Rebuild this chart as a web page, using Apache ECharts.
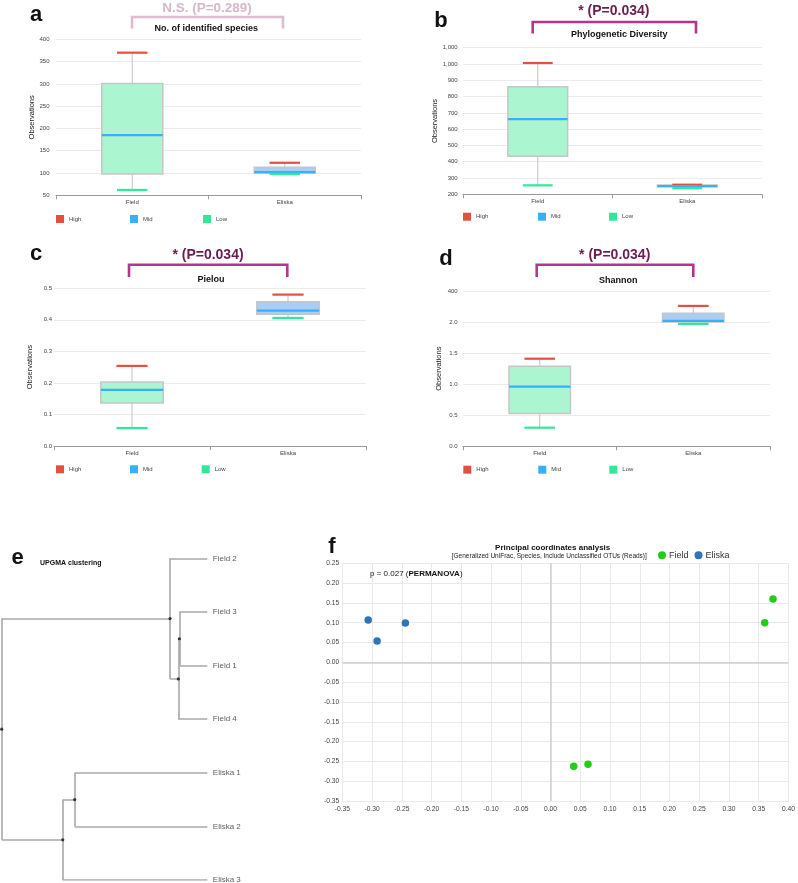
<!DOCTYPE html>
<html>
<head>
<meta charset="utf-8">
<script src="https://cdn.jsdelivr.net/npm/echarts@6/dist/echarts.min.js"></script>
<style>
html,body{margin:0;padding:0;background:#fff;}
#chart{width:798px;height:883px;}
</style>
</head>
<body>
<div id="chart"></div>
<script>
// ---------- DATA ----------
const boxCategories = ['Field', 'Eliska'];
// each: [low, Q1, median, Q3, high]
const speciesField = [62, 98, 185, 301, 370];
const speciesEliska = [98, 100, 102, 113, 123];
const pdField = [255, 434, 662, 860, 1006];
const pdEliska = [238, 245, 251, 257, 259];
const pielouField = [0.057, 0.136, 0.178, 0.203, 0.254];
const pielouEliska = [0.406, 0.418, 0.429, 0.457, 0.48];
const shannonField = [0.30, 0.53, 0.96, 1.29, 1.41];
const shannonEliska = [1.97, 2.00, 2.02, 2.14, 2.26];

const speciesTicks = ['50', '100', '150', '200', '250', '300', '350', '400'];
const pdTicks = ['200', '300', '400', '500', '600', '700', '800', '900', '1,000', '1,000'];
const pielouTicks = ['0.0', '0.1', '0.2', '0.3', '0.4', '0.5'];
const shannonTicks = ['0.0', '0.5', '1.0', '1.5', '2.0', '400'];

const boxTitles = ['No. of identified species', 'Phylogenetic Diversity', 'Pielou', 'Shannon'];
const pTexts = ['N.S. (P=0.289)', '* (P=0.034)', '* (P=0.034)', '* (P=0.034)'];
const legendNames = ['High', 'Mid', 'Low'];

// PCoA
const pcoaField = [[0.374, 0.160], [0.360, 0.100], [0.039, -0.262], [0.063, -0.257]];
const pcoaEliska = [[-0.3065, 0.107], [-0.2915, 0.054], [-0.244, 0.099]];

// UPGMA dendrogram
const leaves = ['Field 2', 'Field 3', 'Field 1', 'Field 4', 'Eliska 1', 'Eliska 2', 'Eliska 3'];
// [childA, childB, height]; indices < leaves.length are leaves, others are earlier merges
const merges = [[1, 2, 0.136], [7, 3, 0.141], [0, 8, 0.181], [4, 5, 0.645], [10, 6, 0.703], [9, 11, 1.0]];

// ---------- LAYOUT ----------
const FONT = 'Liberation Sans, Arial, Helvetica, sans-serif';
const boxGrids = [
  {left: 56, top: 39.3, width: 305, height: 156},
  {left: 463, top: 47.7, width: 299, height: 146.6},
  {left: 54, top: 288.3, width: 312, height: 157.7},
  {left: 463, top: 291, width: 307, height: 155.3}
];
const boxAxes = [
  {min: 50, max: 400, interval: 50, ticks: speciesTicks, field: speciesField, eliska: speciesEliska, labelMargin: 6.5, nameGap: 18},
  {min: 200, max: 1100, interval: 100, ticks: pdTicks, field: pdField, eliska: pdEliska, labelMargin: 5.3, nameGap: 24.3},
  {min: 0, max: 0.5, interval: 0.1, ticks: pielouTicks, field: pielouField, eliska: pielouEliska, labelMargin: 2, nameGap: 19.6},
  {min: 0, max: 2.5, interval: 0.5, ticks: shannonTicks, field: shannonField, eliska: shannonEliska, labelMargin: 5.3, nameGap: 20.3}
];
const legendPos = [
  {top: 215, lefts: [56, 130, 203]},
  {top: 212.7, lefts: [463, 538, 609]},
  {top: 465.3, lefts: [56, 130, 201.7]},
  {top: 465.7, lefts: [463.3, 538.3, 609.3]}
];
const markColors = {High: '#e2513f', Mid: '#36b0fb', Low: '#2eea98'};
const boxFills = ['#abf5d1', '#abcdf4'];

const grid = [], xAxis = [], yAxis = [], series = [], legend = [];

function boxRender(params, api) {
  const ci = api.value(0);
  const lowP = api.coord([ci, api.value(1)]);
  const q1P = api.coord([ci, api.value(2)]);
  const q3P = api.coord([ci, api.value(4)]);
  const highP = api.coord([ci, api.value(5)]);
  const bw = api.size([1, 0])[0] * 0.4;
  const ws = {stroke: '#cbcbcb', lineWidth: 1.2};
  return {type: 'group', children: [
    {type: 'line', shape: {x1: highP[0], y1: highP[1], x2: q3P[0], y2: q3P[1]}, style: ws},
    {type: 'line', shape: {x1: q1P[0], y1: q1P[1], x2: lowP[0], y2: lowP[1]}, style: ws},
    {type: 'rect', shape: {x: q3P[0] - bw / 2, y: q3P[1], width: bw, height: q1P[1] - q3P[1]},
      style: {fill: boxFills[ci], stroke: '#c6c6c6', lineWidth: 1.5}}
  ]};
}
function markRender(frac) {
  return function (params, api) {
    const ci = api.value(0);
    const p = api.coord([ci, api.value(1)]);
    const w = api.size([1, 0])[0] * frac;
    return {type: 'line', shape: {x1: p[0] - w / 2, y1: p[1], x2: p[0] + w / 2, y2: p[1]},
      style: {stroke: api.visual('color'), lineWidth: 2.2}};
  };
}

boxAxes.forEach((ax, i) => {
  grid.push(Object.assign({}, boxGrids[i]));
  xAxis.push({
    type: 'category', gridIndex: i, data: boxCategories,
    axisLine: {lineStyle: {color: '#9a9a9a', width: 1}},
    axisTick: {show: true, length: 4, lineStyle: {color: '#9a9a9a'}},
    axisLabel: {fontSize: 6, color: '#444', margin: 4, fontFamily: FONT},
    splitLine: {show: false}
  });
  yAxis.push({
    type: 'value', gridIndex: i, min: ax.min, max: ax.max, interval: ax.interval,
    name: 'Observations', nameLocation: 'middle', nameRotate: 90, nameGap: ax.nameGap,
    nameTextStyle: {fontSize: 7.5, color: '#222', fontFamily: FONT},
    axisLine: {show: false}, axisTick: {show: false},
    axisLabel: {fontSize: 6, color: '#444', margin: ax.labelMargin, fontFamily: FONT,
      formatter: v => ax.ticks[Math.round((v - ax.min) / ax.interval)]},
    splitLine: {lineStyle: {color: '#ebebeb', width: 1}}
  });
  const rows = [ax.field, ax.eliska];
  series.push({
    type: 'custom', name: 'box' + i, xAxisIndex: i, yAxisIndex: i, silent: true,
    renderItem: boxRender, encode: {x: 0, y: [1, 2, 3, 4, 5]},
    data: rows.map((r, ci) => [ci].concat(r)), z: 2
  });
  const idx = {High: 4, Mid: 2, Low: 0};
  legendNames.forEach(nm => {
    series.push({
      type: 'custom', name: nm, xAxisIndex: i, yAxisIndex: i, silent: true,
      color: markColors[nm], itemStyle: {color: markColors[nm]},
      renderItem: markRender(nm === 'Mid' ? 0.4 : 0.2), encode: {x: 0, y: 1},
      data: rows.map((r, ci) => [ci, r[idx[nm]]]), z: 3
    });
  });
  legendNames.forEach((nm, k) => {
    legend.push({
      left: legendPos[i].lefts[k], top: legendPos[i].top, padding: 0, itemGap: 0,
      itemWidth: 8, itemHeight: 8, icon: 'rect', selectedMode: false,
      textStyle: {fontSize: 6, color: '#444', fontFamily: FONT},
      data: [{name: nm, icon: 'rect'}]
    });
  });
});

// ---------- Dendrogram (grid 4) ----------
const dg = 4;
grid.push({left: 1.7, top: 558.3, width: 205.6, height: 321.7});
xAxis.push({type: 'value', gridIndex: dg, min: 0, max: 1, inverse: true, show: false});
yAxis.push({type: 'value', gridIndex: dg, min: 0, max: leaves.length - 1, inverse: true, show: false});
const nodes = leaves.map((nm, i) => ({h: 0, y: i}));
const segs = [], dots = [];
merges.forEach(m => {
  const a = nodes[m[0]], b = nodes[m[1]], h = m[2];
  const y = (a.y + b.y) / 2;
  segs.push({coords: [[h, a.y], [h, b.y]]});
  segs.push({coords: [[h, a.y], [a.h, a.y]]});
  segs.push({coords: [[h, b.y], [b.h, b.y]]});
  nodes.push({h: h, y: y});
  dots.push([h, y]);
});
series.push({
  type: 'lines', coordinateSystem: 'cartesian2d', xAxisIndex: dg, yAxisIndex: dg, silent: true,
  polyline: false, symbol: 'none', lineStyle: {color: '#a8a8a8', width: 1.6, opacity: 1}, data: segs
});
series.push({
  type: 'scatter', xAxisIndex: dg, yAxisIndex: dg, silent: true, symbolSize: 3.2,
  itemStyle: {color: '#111'}, data: dots, z: 5
});
series.push({
  type: 'scatter', xAxisIndex: dg, yAxisIndex: dg, silent: true, symbolSize: 0,
  data: leaves.map((nm, i) => ({value: [0, i], name: nm})),
  label: {show: true, position: 'right', distance: 5.5, formatter: p => p.name,
    fontSize: 8, color: '#333', fontFamily: FONT}
});

// ---------- PCoA (grid 5) ----------
const pg = 5;
grid.push({left: 342.3, top: 563.3, width: 448.7, height: 237.7});
xAxis.push({
  type: 'value', gridIndex: pg, min: -0.35, max: 0.40, interval: 0.05,
  axisLine: {show: false}, axisTick: {show: false},
  axisLabel: {fontSize: 6.7, color: '#444', margin: 5, fontFamily: FONT, formatter: v => v.toFixed(2), showMaxLabel: true, showMinLabel: true},
  splitLine: {lineStyle: {color: '#e9e9e9', width: 1}}
});
yAxis.push({
  type: 'value', gridIndex: pg, min: -0.35, max: 0.25, interval: 0.05,
  axisLine: {show: false}, axisTick: {show: false},
  axisLabel: {fontSize: 6.7, color: '#444', margin: 3, fontFamily: FONT, formatter: v => v.toFixed(2)},
  splitLine: {lineStyle: {color: '#e9e9e9', width: 1}}
});
series.push({
  type: 'scatter', name: 'Field', xAxisIndex: pg, yAxisIndex: pg, symbolSize: 7.5,
  itemStyle: {color: '#22cc18', opacity: 1}, data: pcoaField, z: 4,
  markLine: {silent: true, symbol: ['none', 'none'], label: {show: false},
    lineStyle: {color: '#cfcfcf', width: 1.5, type: 'solid'},
    data: [{xAxis: 0}, {yAxis: 0}]}
});
series.push({
  type: 'scatter', name: 'Eliska', xAxisIndex: pg, yAxisIndex: pg, symbolSize: 7.5,
  itemStyle: {color: '#2f73b8', opacity: 1}, data: pcoaEliska, z: 4
});
legend.push({
  left: 658, top: 550.7, padding: 0, itemGap: 6, itemWidth: 8, itemHeight: 8,
  icon: 'circle', selectedMode: false,
  textStyle: {fontSize: 9, color: '#333', fontFamily: FONT, padding: [0, 0, 0, -2]},
  data: ['Field', 'Eliska']
});

// ---------- Annotations ----------
function txt(text, x, y, size, opts) {
  return {type: 'text', silent: true, z: 10, style: Object.assign({
    text: text, x: x, y: y, fontSize: size, fontFamily: FONT, fill: '#111',
    textAlign: 'center', textVerticalAlign: 'middle'}, opts || {})};
}
function bracket(x1, x2, yTop, yBot, color) {
  return {type: 'polyline', silent: true, z: 10,
    shape: {points: [[x1, yBot], [x1, yTop], [x2, yTop], [x2, yBot]]},
    style: {stroke: color, lineWidth: 2.6, fill: null}};
}
const sigColor = '#b2378b', sigText = '#6b1d4f';
const graphic = [
  txt('a', 36.2, 15, 22, {fontWeight: 'bold'}),
  txt('b', 441, 21, 22, {fontWeight: 'bold'}),
  txt('c', 36, 254, 22, {fontWeight: 'bold'}),
  txt('d', 446, 258.5, 22, {fontWeight: 'bold'}),
  txt('e', 17.7, 558, 22, {fontWeight: 'bold'}),
  txt('f', 332, 546.5, 22, {fontWeight: 'bold'}),
  txt(pTexts[0], 207, 8.6, 13.5, {fontWeight: 'bold', fill: '#d8b6ca'}),
  bracket(132, 283, 17, 28.5, '#dcbccf'),
  txt(boxTitles[0], 206.2, 28.7, 9, {fontWeight: 'bold'}),
  txt(pTexts[1], 613.8, 11.4, 14, {fontWeight: 'bold', fill: sigText}),
  bracket(532.7, 696, 22, 33.5, sigColor),
  txt(boxTitles[1], 619.3, 34.7, 9, {fontWeight: 'bold'}),
  txt(pTexts[2], 208, 254.7, 14, {fontWeight: 'bold', fill: sigText}),
  bracket(129, 287.3, 264.7, 277, sigColor),
  txt(boxTitles[2], 211, 279.3, 9, {fontWeight: 'bold'}),
  txt(pTexts[3], 614.7, 255.4, 14, {fontWeight: 'bold', fill: sigText}),
  bracket(536.7, 693.3, 264.7, 277, sigColor),
  txt(boxTitles[3], 618.2, 281, 9, {fontWeight: 'bold'}),
  txt('UPGMA clustering', 40, 562.7, 7, {fontWeight: 'bold', textAlign: 'left'}),
  txt('Principal coordinates analysis', 552.7, 547.4, 8, {fontWeight: 'bold'}),
  txt('[Generalized UniFrac, Species, Include Unclassified OTUs (Reads)]', 549.3, 556, 6.5, {fill: '#222'}),
  {type: 'text', silent: true, z: 10, style: {
    text: '{n|p = 0.027 (}{b|PERMANOVA}{n|)}', x: 370, y: 573.4, textAlign: 'left', textVerticalAlign: 'middle',
    rich: {n: {fontSize: 8, fontFamily: FONT, fill: '#111', color: '#111'},
           b: {fontSize: 8, fontFamily: FONT, fontWeight: 'bold', fill: '#111', color: '#111'}}}}
];

const chart = echarts.init(document.getElementById('chart'), null, {renderer: 'canvas'});
chart.setOption({
  animation: false,
  backgroundColor: '#fff',
  textStyle: {fontFamily: FONT},
  grid: grid, xAxis: xAxis, yAxis: yAxis, series: series, legend: legend, graphic: graphic
});
</script>
</body>
</html>
